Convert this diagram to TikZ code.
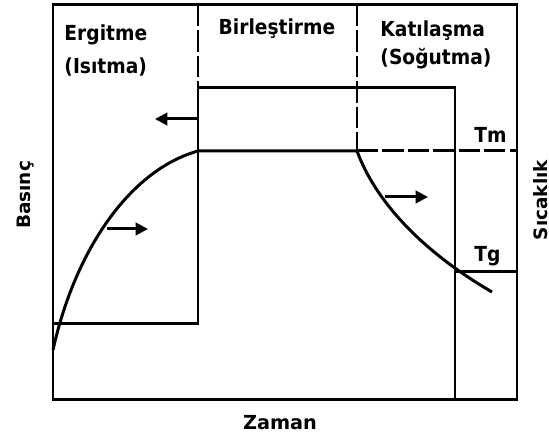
\documentclass[tikz,border=0pt]{standalone}
\usepackage{fontspec}
\setmainfont{DejaVu Sans}
\newfontfamily\condfont{DejaVu Sans Condensed}
\usetikzlibrary{arrows.meta}

\begin{document}
\begin{tikzpicture}[x=0.02cm, y=-0.02cm, >={Triangle[length=7pt,width=7pt]}, line width=1.7pt,
  lbl/.style={font=\condfont\bfseries\fontsize{11.8}{14}\selectfont, inner sep=0pt},
  axislbl/.style={font=\bfseries\fontsize{10.5}{12}\selectfont, inner sep=0pt},
  border/.style={dash pattern=on 12pt off 2.5pt}]
  \useasboundingbox (0,0) rectangle (549,438);

  % Frame and phase borders
  \draw (53,5) rectangle (517,400);
  \draw[border] (198,5) -- (198,88);
  \draw[border] (357,5) -- (357,151);

  % Pressure
  \draw (53,324) -- (198,324) -- (198,88) -- (455,88) -- (455,400);

  % Temperature
  \draw (53,350) .. controls (75,250) and (130,170) .. (198,151) -- (357,151);
  \draw[border] (357,151) -- (517,151);
  \draw (357,151) .. controls (375,200) and (420,250) .. (492,292);
  \draw (455,272) -- (517,272);

  % Arrows
  \draw[->] (198,119) -- (155,119);
  \draw[->] (107,229) -- (148,229);
  \draw[->] (385,197) -- (428,197);

  % Labels
  \node[lbl, anchor=base west] (ergitme) at (63,41) {Ergitme};
  \node[lbl, anchor=base west] (isitma) at (63,74) {(Isıtma)};
  \node[lbl, anchor=base] (birlestirme) at (277,35) {Birleştirme};
  \node[lbl, anchor=base west] (katilasma) at (379,37) {Katılaşma};
  \node[lbl, anchor=base west] (sogutma) at (379,65) {(Soğutma)};
  \node[lbl, anchor=base west] (tm) at (473,143) {Tm};
  \node[lbl, anchor=base west] (tg) at (473,262) {Tg};
  \node[axislbl, font=\bfseries\fontsize{11}{13}\selectfont, anchor=base] (zaman) at (280,430) {Zaman};
  \node[axislbl, anchor=base, rotate=90] (basinc) at (31,195) {Basınç};
  \node[axislbl, anchor=base, rotate=90] (sicaklik) at (547,200) {Sıcaklık};
\end{tikzpicture}
\end{document}
